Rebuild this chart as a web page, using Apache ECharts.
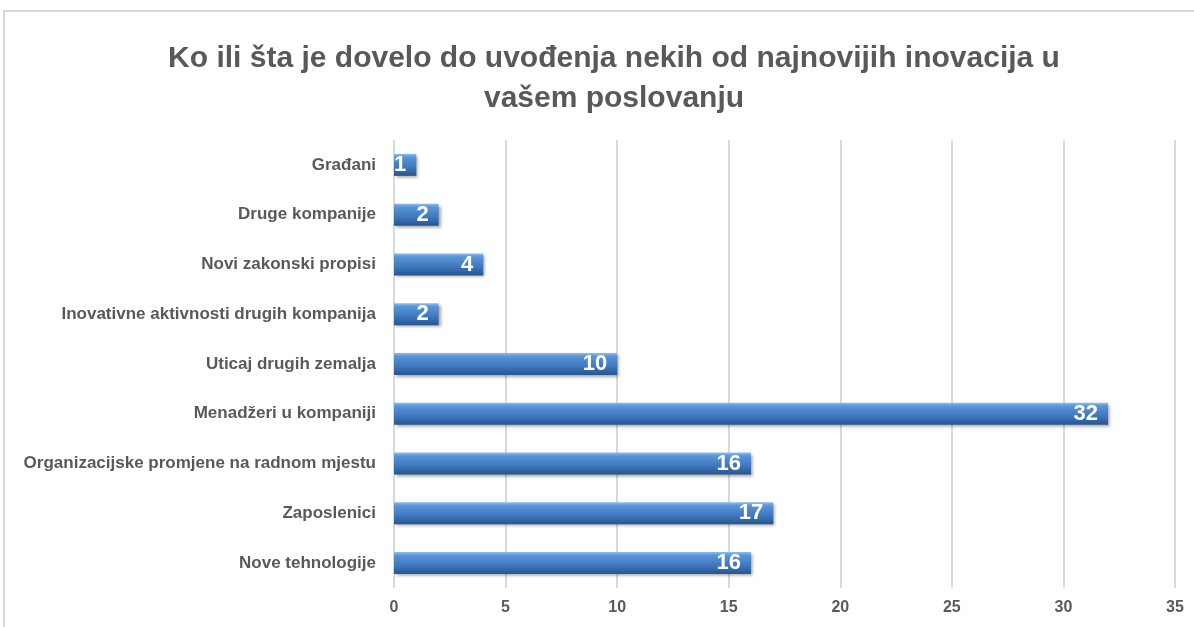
<!DOCTYPE html>
<html>
<head>
<meta charset="utf-8">
<script src="https://cdn.jsdelivr.net/npm/echarts@6/dist/echarts.min.js"></script>
<style>
  html, body { margin: 0; padding: 0; background: #fff; }
  #chart { width: 1194px; height: 627px; }
</style>
</head>
<body>
<div id="chart"></div>
<script>
const categories = [
  'Građani',
  'Druge kompanije',
  'Novi zakonski propisi',
  'Inovativne aktivnosti drugih kompanija',
  'Uticaj drugih zemalja',
  'Menadžeri u kompaniji',
  'Organizacijske promjene na radnom mjestu',
  'Zaposlenici',
  'Nove tehnologije'
];
const counts = [1, 2, 4, 2, 10, 32, 16, 17, 16];
const titleLines = [
  'Ko ili šta je dovelo do uvođenja nekih od najnovijih inovacija u',
  'vašem poslovanju'
];

const font = '"Liberation Sans Narrow", "Liberation Sans", sans-serif';
const grey = '#595959';

const chart = echarts.init(document.getElementById('chart'));

chart.setOption({
  animation: false,
  graphic: [{
    type: 'rect',
    shape: { x: 4, y: 11, width: 1400, height: 800 },
    style: { fill: 'none', stroke: '#d9d9d9', lineWidth: 2 },
    silent: true
  }],
  title: {
    text: titleLines.join('\n'),
    left: 609,
    textAlign: 'center',
    top: 34,
    textStyle: {
      fontFamily: font,
      fontSize: 30,
      fontWeight: 'bold',
      color: grey,
      lineHeight: 40
    }
  },
  grid: {
    left: 394,
    right: 19,
    top: 140,
    bottom: 39
  },
  xAxis: {
    type: 'value',
    min: 0,
    max: 35,
    interval: 5,
    axisLine: { show: false },
    axisTick: { show: false },
    splitLine: { lineStyle: { color: '#d9d9d9', width: 2 } },
    axisLabel: {
      margin: 12,
      fontFamily: font,
      fontSize: 16,
      fontWeight: 'bold',
      color: grey
    }
  },
  yAxis: {
    type: 'category',
    data: categories,
    inverse: true,
    axisLine: { show: false },
    axisTick: { show: false },
    axisLabel: {
      margin: 18,
      fontFamily: font,
      fontSize: 17,
      fontWeight: 'bold',
      color: grey
    }
  },
  series: [{
    type: 'bar',
    data: counts,
    barWidth: 22,
    itemStyle: {
      color: new echarts.graphic.LinearGradient(0, 0, 0, 1, [
        { offset: 0, color: '#8dbdf0' },
        { offset: 0.15, color: '#5a95d6' },
        { offset: 0.6, color: '#3f78bd' },
        { offset: 1, color: '#27558f' }
      ]),
      shadowColor: 'rgba(0,0,0,0.35)',
      shadowBlur: 3,
      shadowOffsetX: 2,
      shadowOffsetY: 2
    },
    label: {
      show: true,
      position: 'insideRight',
      distance: 10,
      fontFamily: font,
      fontSize: 22,
      fontWeight: 'bold',
      color: '#fff'
    }
  }]
});
</script>
</body>
</html>
